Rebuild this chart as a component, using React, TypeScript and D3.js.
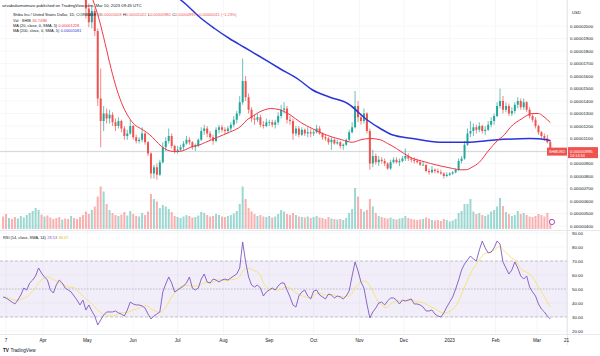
import React from "react";
import * as d3 from "d3";

// Prices in units of 1e-6 USD (2-day candles, open = previous close)
const FIRST_OPEN = 24.5;
const closes = [
  23.8, 23.2, 23.9, 23.4, 23.0, 23.6, 24.2, 24.5, 24.8, 25.6,
  26.2, 27.4, 28.3, 27.6, 27.9, 27.2, 26.4, 25.8, 25.5, 24.9,
  25.2, 24.8, 24.6, 25.3, 24.7, 24.1, 23.4, 23.0, 21.4, 20.3,
  21.2, 19.6, 14.2, 12.4, 13.0, 12.6, 12.9, 12.3, 12.0, 12.4,
  11.8, 11.2, 11.4, 12.0, 11.1, 10.8, 10.9, 11.4, 10.7, 9.8,
  8.2, 8.7, 8.1, 9.1, 10.3, 10.8, 11.2, 10.4, 10.0, 10.1,
  10.3, 10.6, 10.9, 10.7, 10.3, 10.4, 10.9, 11.6, 11.8, 11.4,
  11.1, 10.8, 11.7, 11.9, 11.7, 11.6, 11.8, 12.1, 12.5, 13.0,
  13.9, 15.6, 14.3, 13.3, 12.6, 12.5, 12.7, 12.1, 12.0, 12.3,
  12.3, 12.1, 12.3, 12.8, 13.3, 13.4, 12.5, 12.4, 11.4, 11.8,
  11.3, 11.7, 11.4, 11.5, 11.4, 11.5, 11.8, 11.4, 11.1, 11.0,
  10.7, 10.9, 10.6, 10.7, 10.4, 10.5, 10.9, 11.5, 11.9, 13.6,
  12.7, 12.4, 13.0, 11.6, 9.0, 9.6, 9.1, 9.3, 9.2, 9.0,
  8.6, 9.1, 9.3, 9.1, 9.2, 9.4, 9.6, 9.4, 9.3, 9.2,
  9.1, 8.9, 8.9, 8.4, 8.3, 8.5, 8.4, 8.3, 8.2, 8.0,
  8.1, 8.2, 8.3, 8.5, 9.2, 9.4, 10.5, 11.4, 11.6, 11.9,
  11.7, 12.0, 11.6, 11.7, 12.1, 12.4, 12.8, 13.6, 14.0, 13.3,
  13.6, 13.0, 13.2, 13.7, 14.0, 13.5, 13.9, 13.3, 12.8, 12.5,
  12.0, 11.5, 11.2, 11.0, 10.7, 9.95,
];
const highs = [
  24.9, 24.1, 24.3, 24.2, 23.7, 23.9, 24.6, 25.0, 25.2, 26.0,
  26.8, 27.9, 29.2, 28.6, 28.4, 28.1, 27.4, 26.6, 26.1, 25.7,
  25.6, 25.4, 25.1, 25.8, 25.5, 24.9, 24.3, 23.7, 23.0, 21.8,
  21.6, 21.4, 19.8, 16.6, 13.6, 13.4, 13.3, 13.1, 12.6, 12.7,
  12.5, 12.0, 11.7, 12.5, 12.1, 11.3, 11.1, 11.9, 11.5, 10.8,
  9.9, 8.9, 9.0, 9.3, 10.7, 11.1, 11.8, 11.4, 10.5, 10.4,
  10.5, 10.8, 11.2, 11.1, 10.8, 10.6, 11.0, 11.9, 12.1, 12.0,
  11.6, 11.3, 11.9, 12.1, 12.1, 11.9, 12.0, 12.3, 12.8, 13.2,
  14.4, 17.4, 16.0, 14.6, 13.5, 12.9, 13.0, 12.9, 12.4, 12.6,
  12.5, 12.5, 12.5, 13.1, 13.7, 13.9, 13.6, 12.8, 12.6, 12.0,
  12.0, 11.9, 11.8, 11.9, 11.8, 11.7, 12.1, 12.0, 11.5, 11.3,
  11.1, 11.1, 11.0, 10.9, 10.8, 10.6, 11.0, 11.7, 12.3, 14.8,
  14.0, 13.0, 13.4, 13.1, 11.8, 10.1, 9.8, 9.6, 9.5, 9.4,
  9.1, 9.3, 9.5, 9.5, 9.4, 9.6, 10.2, 9.8, 9.5, 9.5,
  9.4, 9.3, 9.2, 8.9, 8.6, 8.8, 8.6, 8.6, 8.5, 8.3,
  8.3, 8.3, 8.4, 8.6, 9.4, 9.6, 10.8, 11.8, 12.4, 12.2,
  12.1, 12.3, 12.1, 12.0, 12.4, 12.7, 13.0, 13.9, 15.0, 14.4,
  13.9, 13.8, 13.5, 13.9, 14.3, 14.2, 14.2, 14.0, 13.5, 13.0,
  12.7, 12.1, 11.6, 11.4, 11.3, 10.9,
];
const lows = [
  23.2, 22.8, 23.0, 23.1, 22.6, 22.8, 23.4, 24.0, 24.2, 24.6,
  25.4, 26.0, 27.2, 27.0, 27.1, 26.8, 26.0, 25.3, 25.0, 24.4,
  24.6, 24.3, 24.1, 24.4, 24.2, 23.6, 23.0, 22.5, 20.6, 19.9,
  19.8, 19.2, 13.6, 10.3, 11.6, 12.2, 12.2, 12.0, 11.6, 11.8,
  11.5, 10.9, 10.9, 11.3, 10.9, 10.6, 10.6, 10.7, 10.5, 9.6,
  7.8, 7.8, 7.7, 8.0, 9.0, 10.0, 10.6, 10.2, 9.8, 9.8,
  10.0, 10.1, 10.5, 10.5, 10.1, 10.0, 10.3, 10.8, 11.3, 11.1,
  10.9, 10.5, 10.7, 11.4, 11.5, 11.3, 11.4, 11.6, 11.9, 12.2,
  12.8, 13.7, 14.0, 13.0, 12.3, 12.1, 12.3, 11.9, 11.8, 11.9,
  12.0, 11.9, 11.8, 12.1, 12.6, 13.0, 12.2, 12.1, 10.9, 11.2,
  11.1, 11.2, 11.2, 11.1, 11.1, 11.2, 11.4, 11.3, 10.9, 10.8,
  10.5, 10.1, 10.5, 10.5, 10.2, 10.1, 10.4, 10.8, 11.4, 11.8,
  12.3, 12.1, 12.2, 11.4, 8.5, 8.7, 8.9, 8.8, 9.0, 8.8,
  8.5, 8.5, 9.0, 9.0, 8.8, 9.1, 9.2, 9.2, 9.1, 9.0,
  9.0, 8.8, 8.8, 8.3, 8.1, 8.2, 8.2, 8.2, 8.1, 7.8,
  7.9, 8.0, 8.1, 8.2, 8.4, 9.0, 9.3, 10.4, 11.1, 11.2,
  11.4, 11.5, 11.4, 11.3, 11.6, 11.9, 12.1, 12.7, 13.4, 13.0,
  13.1, 12.8, 12.8, 13.0, 13.4, 13.3, 13.3, 13.1, 12.6, 12.3,
  11.8, 11.3, 11.0, 10.8, 10.6, 9.9,
];
const volumes = [
  2.5, 3.0, 2.2, 2.0, 2.4, 2.1, 2.6, 2.3, 2.8, 3.2,
  3.6, 4.2, 3.8, 2.9, 2.5, 2.7, 2.3, 2.0, 2.2, 2.4,
  1.9, 2.1, 2.0, 2.6, 2.2, 2.0, 2.4, 2.8, 3.5, 3.0,
  3.8, 4.5, 6.5, 8.5, 7.5, 5.0, 3.8, 3.2, 2.8, 2.6,
  2.9, 3.4, 2.7, 3.6, 3.0, 2.6, 2.5, 3.2, 2.8, 3.5,
  7.0, 6.0, 5.5, 4.2, 4.8, 4.5, 4.0, 3.4, 2.6, 2.4,
  2.2, 2.5, 2.8, 2.6, 2.3, 2.4, 2.7, 3.4, 3.2, 2.8,
  2.5, 2.6, 3.0, 2.8, 2.5, 2.4, 2.6, 2.8, 3.1, 3.6,
  5.0, 8.5, 6.0, 4.2, 3.5, 3.0, 2.6, 2.8, 2.5, 2.4,
  2.6, 2.3, 2.5, 3.0, 3.8, 3.5, 3.0, 2.8, 3.2, 2.8,
  2.5, 2.4, 2.3, 2.5, 2.2, 2.4, 2.6, 2.3, 2.2, 2.0,
  2.4, 2.1, 2.0, 1.9, 2.0, 1.8, 2.2, 3.2, 4.0, 8.2,
  6.5, 4.0, 3.5, 3.8, 6.0, 4.5, 3.2, 2.6, 2.4, 2.2,
  2.1, 2.3, 2.0, 1.9, 2.1, 2.2, 2.6, 2.2, 2.0, 1.9,
  1.8, 1.9, 2.0, 2.3, 2.1, 1.8, 1.7, 1.8, 1.6, 2.0,
  1.8, 1.5, 1.7, 2.0, 3.2, 3.6, 5.0, 5.0, 6.0, 3.5,
  3.0, 3.2, 2.8, 2.6, 2.9, 3.5, 3.8, 4.5, 6.2, 4.6,
  3.4, 3.0, 2.6, 2.8, 3.6, 3.0, 3.2, 2.8, 2.5, 2.4,
  2.6, 3.0, 2.8, 2.5, 3.2, 2.0,
];
const rsiValues = [
  44.3, 43.6, 42.1, 40.7, 39.3, 42.1, 45.7, 50.7, 49.3, 54.3,
  56.4, 59.3, 65.0, 61.4, 58.6, 56.4, 49.3, 47.1, 52.9, 56.4,
  54.3, 50.7, 49.3, 47.9, 45.0, 42.1, 38.6, 42.1, 35.0, 38.6,
  34.3, 30.7, 24.3, 27.9, 31.4, 33.6, 33.6, 33.6, 34.3, 32.9,
  32.1, 30.7, 35.0, 40.7, 39.3, 38.6, 38.6, 37.9, 36.4, 32.1,
  28.6, 30.7, 32.1, 33.6, 47.9, 53.6, 58.6, 54.3, 47.9, 49.3,
  50.7, 52.1, 54.3, 58.6, 50.7, 49.3, 50.7, 57.1, 60.7, 55.0,
  54.3, 57.1, 56.4, 55.0, 56.4, 57.1, 56.4, 57.9, 59.3, 60.7,
  65.0, 83.6, 69.3, 58.6, 52.9, 51.4, 52.9, 50.7, 45.0, 47.9,
  49.3, 50.7, 49.3, 52.1, 54.3, 54.3, 49.3, 44.3, 38.6, 37.1,
  45.0, 47.9, 49.3, 45.0, 42.9, 48.6, 49.3, 45.7, 44.3, 42.9,
  46.4, 45.7, 43.6, 45.0, 44.3, 42.9, 45.0, 48.6, 59.3, 69.3,
  62.9, 55.0, 50.7, 39.3, 29.3, 33.6, 36.4, 40.0, 40.7, 38.6,
  41.4, 43.6, 43.6, 42.1, 39.3, 42.1, 41.4, 42.1, 42.9, 39.3,
  39.3, 38.6, 37.1, 34.3, 34.3, 35.0, 32.1, 30.7, 30.0, 32.9,
  37.1, 40.7, 44.3, 50.0, 56.4, 63.6, 67.9, 70.7, 73.6, 71.4,
  70.0, 77.9, 84.3, 79.3, 75.7, 76.4, 79.3, 84.3, 82.1, 69.3,
  65.0, 60.7, 63.6, 69.3, 65.0, 59.3, 57.1, 59.3, 51.4, 47.9,
  45.0, 39.3, 35.7, 33.6, 30.7, 28.5,
];
const ma20Dates = [
  "2022-05-01", "2022-05-05", "2022-05-09", "2022-05-13", "2022-05-17", "2022-05-21", "2022-05-25", "2022-05-29",
  "2022-06-02", "2022-06-06", "2022-06-10", "2022-06-14", "2022-06-18", "2022-06-22", "2022-06-26", "2022-06-30",
  "2022-07-04", "2022-07-08", "2022-07-12", "2022-07-16", "2022-07-20", "2022-07-24", "2022-07-28",
  "2022-08-01", "2022-08-05", "2022-08-09", "2022-08-13", "2022-08-17", "2022-08-21", "2022-08-25", "2022-08-29",
  "2022-09-02", "2022-09-08", "2022-09-15", "2022-09-22", "2022-09-30",
  "2022-10-07", "2022-10-14", "2022-10-20", "2022-10-27",
  "2022-11-02", "2022-11-08", "2022-11-15", "2022-11-20", "2022-11-26",
  "2022-12-01", "2022-12-07", "2022-12-13", "2022-12-19", "2022-12-26",
  "2023-01-03", "2023-01-08", "2023-01-12", "2023-01-16", "2023-01-21", "2023-01-27",
  "2023-02-02", "2023-02-07", "2023-02-11", "2023-02-15", "2023-02-19", "2023-02-23", "2023-02-26",
  "2023-03-02", "2023-03-05", "2023-03-08", "2023-03-10",
];
const ma20Values = [
  23.3, 22.0, 20.5, 18.6, 16.6, 14.9, 13.6, 12.7,
  12.1, 11.8, 11.5, 11.1, 10.6, 10.2, 10.0, 9.95,
  10.0, 10.2, 10.4, 10.5, 10.7, 10.9, 11.1,
  11.3, 11.5, 11.7, 12.0, 12.5, 12.8, 13.1, 13.3,
  13.4, 13.3, 12.9, 12.3, 11.8,
  11.4, 11.1, 10.9, 10.7,
  10.9, 11.0, 10.9, 10.6, 10.2,
  9.8, 9.4, 9.2, 9.0, 8.8,
  8.6, 8.5, 8.5, 8.7, 9.1, 10.0,
  10.8, 11.3, 11.9, 12.3, 12.6, 12.9, 13.0,
  13.0, 12.8, 12.5, 12.28,
];
const ma200Dates = [
  "2022-06-01", "2022-06-20", "2022-07-07", "2022-07-16", "2022-07-26", "2022-08-05", "2022-08-15", "2022-08-25",
  "2022-09-08", "2022-09-21", "2022-09-30", "2022-10-12", "2022-10-24", "2022-11-06", "2022-11-15", "2022-11-23",
  "2022-12-07", "2022-12-25", "2023-01-12", "2023-02-02", "2023-02-24", "2023-03-08", "2023-03-10",
];
const ma200Values = [
  25.2, 23.3, 21.7, 20.7, 19.8, 19.0, 18.3, 17.6,
  16.6, 15.7, 14.9, 14.3, 13.8, 12.5, 11.8, 11.3,
  11.0, 10.7, 10.7, 10.9, 11.0, 10.9, 10.81,
];
const priceTicks = [20, 19, 18, 17, 16, 15, 14, 13, 12, 11, 10, 9, 8, 7, 6, 5, 4];
const rsiTicks = [90, 80, 70, 60, 50, 40, 30, 20];
const timeTickDates = [
  "2022-03-07", "2022-04-01", "2022-05-01", "2022-06-01", "2022-07-01", "2022-08-01", "2022-09-01",
  "2022-10-01", "2022-11-01", "2022-12-01", "2023-01-01", "2023-02-01", "2023-03-01", "2023-03-21",
];
const timeTickLabels = ["7", "Apr", "May", "Jun", "Jul", "Aug", "Sep", "Oct", "Nov", "Dec", "2023", "Feb", "Mar", "21"];

const START = Date.UTC(2022, 2, 5);
const DAY = 86400000;
const UP = "#26a69a";
const DOWN = "#ef5350";
const FONT = "'Liberation Sans', Arial, sans-serif";
const CHART_R = 567;

const parse = (s: string) => new Date(s + "T00:00:00Z");

export default function App() {
  const x = d3.scaleUtc().domain([parse("2022-04-01"), parse("2023-03-01")]).range([43, 537]);
  const yP = d3.scaleLinear().domain([4, 20]).range([226, 26]);
  const yV = d3.scaleLinear().domain([0, 10]).range([229, 179]);
  const yR = d3.scaleLinear().domain([20, 70]).range([331, 261]);

  const n = Math.min(closes.length, highs.length, lows.length);
  const candles = d3.range(n).map((i) => ({
    date: new Date(START + 2 * i * DAY),
    o: i === 0 ? FIRST_OPEN : closes[i - 1],
    h: highs[i],
    l: lows[i],
    c: closes[i],
    v: volumes[i] ?? 0,
    r: rsiValues[i],
  }));

  const rsiMA = rsiValues.map((_, i) => d3.mean(rsiValues.slice(Math.max(0, i - 6), i + 1)) as number);

  const maLine = d3
    .line<[Date, number]>()
    .x((d) => x(d[0]))
    .y((d) => yP(d[1]))
    .curve(d3.curveMonotoneX);
  const ma20Path = maLine(ma20Dates.map((d, i) => [parse(d), ma20Values[i]] as [Date, number]));
  const ma200Path = maLine(ma200Dates.map((d, i) => [parse(d), ma200Values[i]] as [Date, number]));

  const rsiLine = d3
    .line<number>()
    .x((_, i) => x(candles[i].date))
    .y((d) => yR(d))
    .curve(d3.curveLinear);
  const rsiPath = rsiLine(rsiValues.slice(0, n));
  const rsiMAPath = d3
    .line<number>()
    .x((_, i) => x(candles[i].date))
    .y((d) => yR(d))
    .curve(d3.curveMonotoneX)(rsiMA.slice(0, n));

  const last = candles[n - 1];
  const lastY = yP(last.c);

  return (
    <svg
      width={600}
      height={356}
      style={{ position: "absolute", left: 0, top: 0, display: "block", background: "#fff" }}
      fontFamily={FONT}
    >
      <defs>
        <clipPath id="mainClip">
          <rect x={0} y={0} width={CHART_R} height={230} />
        </clipPath>
        <clipPath id="rsiClip">
          <rect x={0} y={231} width={CHART_R} height={103} />
        </clipPath>
      </defs>
      <rect x={0} y={0} width={600} height={356} fill="#fff" />

      {/* grid */}
      {priceTicks.map((t) => (
        <line key={"hg" + t} x1={0} x2={CHART_R} y1={yP(t)} y2={yP(t)} stroke="#f0f2f5" strokeWidth={0.6} />
      ))}
      {rsiTicks.map((t) => (
        <line key={"rg" + t} x1={0} x2={CHART_R} y1={yR(t)} y2={yR(t)} stroke="#f0f2f5" strokeWidth={0.6} />
      ))}
      {timeTickDates.map((d) => (
        <line key={"vg" + d} x1={x(parse(d))} x2={x(parse(d))} y1={0} y2={334} stroke="#f0f2f5" strokeWidth={0.6} />
      ))}

      {/* main pane */}
      <g clipPath="url(#mainClip)">
        {candles.map((c, i) => (
          <rect
            key={"v" + i}
            x={x(c.date) - 1}
            width={2}
            y={yV(c.v)}
            height={yV(0) - yV(c.v)}
            fill={c.c >= c.o ? UP : DOWN}
            opacity={0.45}
          />
        ))}
        <line x1={0} x2={CHART_R} y1={lastY} y2={lastY} stroke="#b8bbc4" strokeWidth={0.6} />
        {candles.map((c, i) => {
          const cx = x(c.date);
          const col = c.c >= c.o ? UP : DOWN;
          const y1 = yP(Math.max(c.o, c.c));
          const y2 = yP(Math.min(c.o, c.c));
          return (
            <g key={"c" + i}>
              <line x1={cx} x2={cx} y1={yP(c.h)} y2={yP(c.l)} stroke={col} strokeWidth={0.7} />
              <rect x={cx - 1} width={2} y={y1} height={Math.max(0.7, y2 - y1)} fill={col} />
            </g>
          );
        })}
        <path d={ma200Path || ""} fill="none" stroke="#2a34d8" strokeWidth={1.5} />
        <path d={ma20Path || ""} fill="none" stroke="#f23645" strokeWidth={1} />
        <circle cx={552} cy={222} r={2.6} fill="#fff" stroke="#9c27b0" strokeWidth={0.8} />
      </g>

      {/* legend */}
      <g fontSize={4.2} fill="#131722">
        <text x={2} y={6.5}>sevabokomomaro published on TradingView.com, Mar 10, 2023 09:45 UTC</text>
        <text x={13} y={16} fontSize={3.9}>
          Shiba Inu / United States Dollar, 1D, COINBASE
          <tspan dx={1.5}>O</tspan>
          <tspan fill={DOWN}>0.00001009</tspan>
          <tspan dx={1.5}>H</tspan>
          <tspan fill={DOWN}>0.00001022</tspan>
          <tspan dx={1.5}>L</tspan>
          <tspan fill={DOWN}>0.00000980</tspan>
          <tspan dx={1.5}>C</tspan>
          <tspan fill={DOWN}>0.00000995</tspan>
          <tspan dx={1.5} fill={DOWN}>−0.00000011 (−1.23%)</tspan>
        </text>
        <text x={13} y={21.5} fontSize={3.9}>
          Vol · SHIB<tspan dx={1.5} fill={DOWN}>84.749B</tspan>
        </text>
        <text x={13} y={26.5} fontSize={3.9}>
          MA (20, close, 0, SMA, 5)<tspan dx={1.5} fill="#f23645">0.00001228</tspan>
        </text>
        <text x={13} y={31.5} fontSize={3.9}>
          MA (200, close, 0, SMA, 5)<tspan dx={1.5} fill="#2a34d8">0.00001081</tspan>
        </text>
      </g>

      {/* pane separators / borders */}
      <line x1={0} x2={600} y1={230.5} y2={230.5} stroke="#e0e3eb" strokeWidth={0.8} />
      <line x1={0} x2={600} y1={334.5} y2={334.5} stroke="#e0e3eb" strokeWidth={0.8} />
      <line x1={CHART_R + 0.5} x2={CHART_R + 0.5} y1={0} y2={345} stroke="#e0e3eb" strokeWidth={0.8} />

      {/* RSI pane */}
      <rect x={0} y={yR(70)} width={CHART_R} height={yR(30) - yR(70)} fill="#7e57c2" opacity={0.1} />
      {[70, 50, 30].map((t) => (
        <line
          key={"rd" + t}
          x1={0}
          x2={CHART_R}
          y1={yR(t)}
          y2={yR(t)}
          stroke="#9598a1"
          strokeWidth={0.6}
          strokeDasharray={t === 50 ? "1.5,1.5" : "3,2"}
          opacity={0.8}
        />
      ))}
      <g clipPath="url(#rsiClip)">
        <path d={rsiMAPath || ""} fill="none" stroke="#f5e26b" strokeWidth={0.9} />
        <path d={rsiPath || ""} fill="none" stroke="#7e57c2" strokeWidth={0.9} />
      </g>
      <text x={3} y={238.5} fontSize={3.9} fill="#131722">
        RSI (14, close, SMA, 14)
        <tspan dx={1.5} fill="#7e57c2">28.53</tspan>
        <tspan dx={1.5} fill="#d8b400">36.07</tspan>
      </text>

      {/* price axis */}
      <text x={572} y={13.5} fontSize={4.2} fill="#131722">USD</text>
      {priceTicks.map((t) => (
        <text key={"pt" + t} x={570} y={yP(t) + 1.5} fontSize={4.4} fill="#131722">
          {(t / 1e6).toFixed(8)}
        </text>
      ))}
      {rsiTicks.map((t) => (
        <text key={"rt" + t} x={572} y={yR(t) + 1.5} fontSize={4.4} fill="#131722">
          {t.toFixed(2)}
        </text>
      ))}

      {/* last price tags */}
      <rect x={547} y={lastY - 4} width={20} height={8} fill={DOWN} />
      <text x={557} y={lastY + 1.5} fontSize={3.6} fill="#fff" textAnchor="middle">SHIBUSD</text>
      <rect x={568} y={lastY - 4.5} width={30} height={11} fill={DOWN} />
      <text x={570} y={lastY + 1} fontSize={4.3} fill="#fff">{(last.c / 1e6).toFixed(8)}</text>
      <text x={570} y={lastY + 5.5} fontSize={3.8} fill="#fff">14:14:34</text>

      {/* time axis */}
      {timeTickDates.map((d, i) => (
        <text key={"tt" + d} x={x(parse(d))} y={342} fontSize={4.6} fill="#131722" textAnchor="middle">
          {timeTickLabels[i]}
        </text>
      ))}

      {/* logo */}
      <text x={3} y={352} fontSize={4.6} fill="#131722">
        <tspan fontWeight="bold">TV</tspan>
        <tspan dx={1.5}>TradingView</tspan>
      </text>
    </svg>
  );
}
